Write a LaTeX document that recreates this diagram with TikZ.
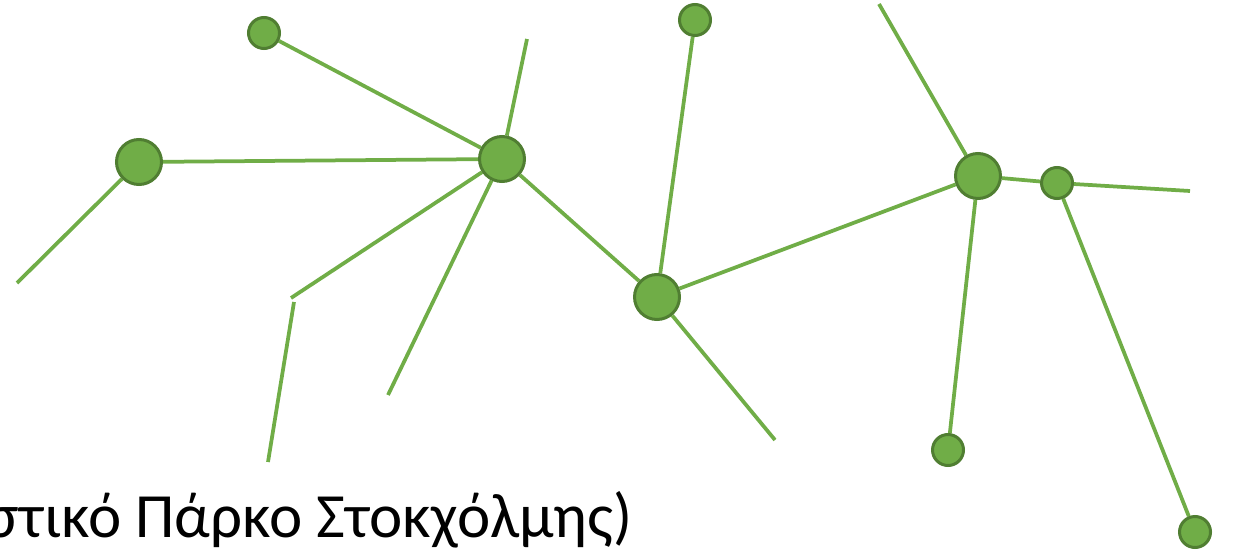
\documentclass[tikz,border=0pt]{standalone}
\usepackage{fontspec}
\setmainfont{Carlito}
\usetikzlibrary{positioning, backgrounds}
\definecolor{leafgreen}{HTML}{70AD47}
\definecolor{rimgreen}{HTML}{507E32}
\tikzset{
  hubnode/.style={
    circle, draw=rimgreen, fill=leafgreen,
    line width=3pt, inner sep=0pt, minimum size=45pt
  },
  tipnode/.style={
    circle, draw=rimgreen, fill=leafgreen,
    line width=3pt, inner sep=0pt, minimum size=31pt
  },
  link/.style={draw=leafgreen, line width=3.75pt}
}

\begin{document}
\begin{tikzpicture}[x=1pt, y=-1pt]

  \clip (0,0) rectangle (1233,553);
  \useasboundingbox (0,0) rectangle (1233,553);

  % circles
  \node[tipnode] (nw)    at (264,33)   {};
  \node[hubnode] (west)  at (139,162)  {};
  \node[hubnode] (hubA)  at (502,159)  {};
  \node[tipnode] (top)   at (695,20)   {};
  \node[hubnode] (mid)   at (657,297)  {};
  \node[hubnode] (hubB)  at (978,176)  {};
  \node[tipnode] (east)  at (1057,183) {};
  \node[tipnode] (low)   at (948,450)  {};
  \node[tipnode] (se)    at (1195,532) {};

  % loose ends
  \coordinate (westend)  at (17,283);
  \coordinate (upend)    at (527,39);
  \coordinate (bendA)    at (291,298);
  \coordinate (bendB)    at (294,302);
  \coordinate (downend)  at (268,462);
  \coordinate (diagend)  at (388,395);
  \coordinate (midend)   at (775,440);
  \coordinate (northend) at (879,4);
  \coordinate (eastend)  at (1190,191);

  \begin{scope}[on background layer]
    \draw[link] (west) -- (westend);
    \draw[link] (west) -- (hubA);
    \draw[link] (nw)   -- (hubA);
    \draw[link] (hubA) -- (upend);
    \draw[link] (hubA) -- (bendA);
    \draw[link] (bendB) -- (downend);
    \draw[link] (hubA) -- (diagend);
    \draw[link] (hubA) -- (mid);
    \draw[link] (mid)  -- (midend);
    \draw[link] (mid)  -- (top);
    \draw[link] (mid)  -- (hubB);
    \draw[link] (hubB) -- (northend);
    \draw[link] (hubB) -- (east);
    \draw[link] (east) -- (eastend);
    \draw[link] (hubB) -- (low);
    \draw[link] (east) -- (se);
  \end{scope}

  % caption
  \node[anchor=base east, inner sep=0pt, font=\fontsize{63}{75}\selectfont]
    (caption) at (633,537) {στικό Πάρκο Στοκχόλμης)};

\end{tikzpicture}
\end{document}
